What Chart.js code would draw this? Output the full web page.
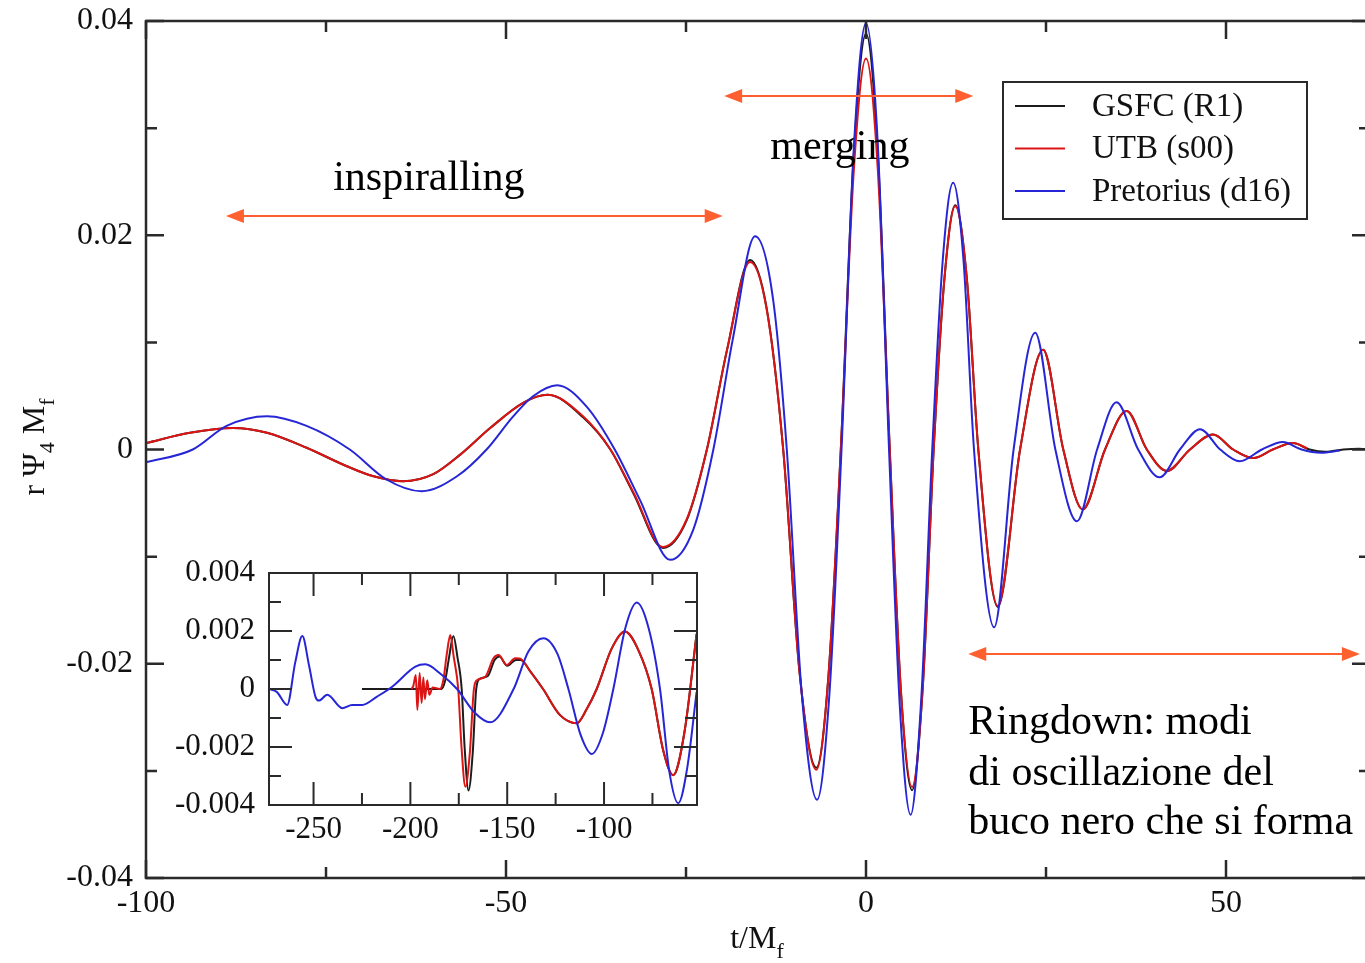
<!DOCTYPE html>
<html>
<head>
<meta charset="utf-8">
<title>Forma d'onda - fusione di buchi neri</title>
<script src="https://cdn.jsdelivr.net/npm/chart.js@4.4.1/dist/chart.umd.min.js"></script>
<style>
  html, body { margin: 0; padding: 0; background: #fff; width: 1365px; height: 963px; overflow: hidden; }
  #wrap { position: relative; width: 1365px; height: 963px; overflow: hidden; }
  #mainChart { position: absolute; left: 0; top: 0; }
  #insetChart { position: absolute; left: 150px; top: 550px; }
</style>
</head>
<body>
<div id="wrap">
  <canvas id="mainChart" width="1372" height="963"></canvas>
  <canvas id="insetChart" width="560" height="310"></canvas>
</div>
<script>
const utbT = [-100, -93.9, -87.9, -83.2, -77.7, -72.1, -68.4, -64.3, -60.1, -56.4, -52.2, -47.5, -44.2, -39.3, -35.5, -32.3, -28.2, -24.9, -22.1, -19.3, -16.1, -13.8, -11.5, -9.2, -6.9, -5.2, -3.5, -1.7, 0, 1.65, 3.3, 4.85, 6.4, 7.9, 9.4, 10.9, 12.4, 14.0, 15.6, 18.3, 21.4, 24.6, 27.4, 30.1, 33.2, 36.2, 39, 41.8, 45, 48.2, 51, 53.8, 56.5, 59.3, 61.3];
const utbY = [0.0006, 0.00156, 0.0020, 0.00156, 0.00016, -0.00156, -0.0025, -0.00296, -0.0023, -0.0005, 0.0020, 0.0044, 0.0051, 0.0031, 0, -0.0040, -0.0091, -0.0065, 0, 0.0093, 0.0175, 0.0131, 0, -0.021, -0.0299, -0.021, 0, 0.026, 0.0365, 0.026, 0, -0.0225, -0.0315, -0.022, 0, 0.016, 0.0227, 0.016, 0, -0.0146, 0, 0.0093, 0, -0.0056, 0, 0.0036, 0, -0.0020, 0, 0.0014, 0, -0.0008, 0, 0.0006, 0.0001];

const gsfcT = [-100, -93.9, -87.9, -83.2, -77.7, -72.1, -68.4, -64.3, -60.1, -56.4, -52.2, -47.5, -44.2, -39.3, -35.5, -32.3, -28.2, -24.9, -22.1, -19.3, -16.1, -13.8, -11.5, -9.2, -6.9, -5.2, -3.5, -1.7, 0, 1.65, 3.3, 4.85, 6.4, 7.9, 9.4, 10.9, 12.4, 14.0, 15.6, 18.3, 21.4, 24.6, 27.4, 30.1, 33.2, 36.2, 39, 41.8, 45, 48.2, 51, 53.8, 56.5, 59.3, 61.6, 63.8, 66.3, 68.5, 70];
const gsfcY = [0.0006, 0.00156, 0.0020, 0.00156, 0.00016, -0.00156, -0.0025, -0.00296, -0.0023, -0.0005, 0.0020, 0.0044, 0.0051, 0.0030, 0, -0.0041, -0.0092, -0.0066, 0, 0.0093, 0.0177, 0.0132, 0, -0.021, -0.0297, -0.021, 0, 0.0275, 0.0388, 0.0275, 0, -0.0226, -0.0318, -0.022, 0, 0.016, 0.0228, 0.016, 0, -0.0147, 0, 0.0093, 0, -0.0056, 0, 0.0036, 0, -0.0020, 0, 0.0014, 0, -0.0008, 0, 0.0006, 0, -0.00022, 0, 0.00008, 0];

const pretT = [-100, -93.5, -88.8, -83.2, -77.7, -71.7, -66.6, -61.7, -56.8, -52.7, -49.0, -46.2, -42.9, -38.8, -34.9, -31.4, -27.2, -24.0, -21.2, -18.5, -15.4, -12.9, -11.0, -8.9, -6.8, -5.1, -3.4, -1.7, 0, 1.6, 3.2, 4.7, 6.2, 7.7, 9.2, 10.65, 12.1, 13.55, 15.0, 17.8, 20.5, 23.5, 26.3, 29.3, 32.1, 34.8, 37.8, 40.8, 43.6, 46.4, 49.2, 51.9, 55, 57.9, 60.5, 63.2, 65.8];
const pretY = [-0.0012, 0, 0.0022, 0.0031, 0.0022, 0, -0.0028, -0.0039, -0.0025, 0, 0.0031, 0.0050, 0.0060, 0.0040, 0, -0.0047, -0.0103, -0.0075, 0, 0.0103, 0.0199, 0.0140, 0, -0.023, -0.0327, -0.023, 0, 0.028, 0.0398, 0.029, 0, -0.024, -0.0341, -0.023, 0, 0.0176, 0.0249, 0.0176, 0, -0.0166, 0, 0.0109, 0, -0.0067, 0, 0.0044, 0, -0.0026, 0, 0.0019, 0, -0.0011, 0, 0.0007, 0, -0.0003, -0.0001];

// ---- dati del riquadro (inizio delle simulazioni) ----
const insetUtbT = [-199.5, -198.5, -197.2, -196.4, -195.2, -194.2, -193.3, -192.5, -191.3, -190.2, -188.5, -184.8, -183.0, -181.2, -179.4, -177.6, -175.3, -173.6, -171.6, -169.3, -167.2, -165.6, -161.3, -157.1, -154.5, -150.2, -145.9, -143.5, -138, -131.5, -122.7, -114.1, -109, -103.8, -96, -89.2, -82, -75.4, -69.5, -64.3, -58.5, -52.2];
const insetUtbY = [0, 0.0001, 0.00048, -0.00072, 0.00055, -0.00048, 0.0004, -0.00035, 0.0003, -0.0002, 0.00005, 0, 0.0003, 0.0012, 0.00186, 0.0011, 0, -0.0020, -0.00337, -0.0022, 0, 0.0003, 0.00042, 0.00106, 0.00117, 0.00083, 0.00106, 0.00105, 0.0006, 0, -0.0009, -0.00118, -0.0007, 0, 0.0014, 0.00198, 0.0013, 0, -0.0021, -0.00297, -0.0015, 0.0019];

const insetGsfcT = [-225, -184, -182, -180, -177.8, -175.7, -173.5, -172, -170, -167.8, -166, -164.2, -160, -156.5, -154, -150, -145.5, -143, -138, -131.5, -122.7, -114.1, -109, -103.8, -96, -89.2, -82, -75.4, -69.5, -64.3, -58.5, -52.2];
const insetGsfcY = [0, 0, 0.0003, 0.0011, 0.00183, 0.0011, 0, -0.0020, -0.0035, -0.0022, 0, 0.00035, 0.00045, 0.0010, 0.00112, 0.0008, 0.0010, 0.0010, 0.0006, 0, -0.0009, -0.00118, -0.0007, 0, 0.0014, 0.00198, 0.0013, 0, -0.0021, -0.00297, -0.0015, 0.0019];

const insetPretT = [-273, -269, -263.6, -259.5, -255.8, -252.3, -249, -247.3, -242.9, -235.2, -230.1, -224.9, -217.2, -209.4, -197.4, -192.3, -184, -175.9, -167, -158.8, -146.7, -139, -131.3, -124, -118.4, -112, -106.3, -100.5, -95.2, -89, -83.1, -77, -71.1, -66.4, -61.7, -57, -52.2];
const insetPretY = [0, -0.0001, -0.00055, 0.0009, 0.00183, 0.0008, -0.00027, -0.0004, -0.0002, -0.00066, -0.00055, -0.00055, -0.00026, 0.00008, 0.00077, 0.00085, 0.0005, 0, -0.0008, -0.00115, 0, 0.0013, 0.00175, 0.0012, 0, -0.0016, -0.00224, -0.0015, 0, 0.0021, 0.00298, 0.0021, 0, -0.0028, -0.00394, -0.0027, -0.0001];

// ---- tacche degli assi ----
const xMajor = [-100, -50, 0, 50];
const xMinor = [-75, -25, 25];
const yMajor = [-0.04, -0.02, 0, 0.02, 0.04];
const yMinor = [-0.03, -0.01, 0.01, 0.03];
const insetXMajor = [-250, -200, -150, -100];
const insetXMinor = [-225, -175, -125, -75];
const insetYMajor = [-0.004, -0.002, 0, 0.002, 0.004];
const insetYMinor = [-0.003, -0.001, 0.001, 0.003];

const seriesNames = ['GSFC (R1)', 'UTB (s00)', 'Pretorius (d16)'];
const colBlack = '#1c1c1c';
const colRed = '#dc1414';
const colBlue = '#2626d6';
const colArrow = '#ff6030';
const serif = "'Liberation Serif', 'Times New Roman', serif";

Chart.defaults.font.family = serif;
Chart.defaults.color = '#111';

function pts(ts, ys) {
  return ts.map((t, i) => ({ x: t, y: ys[i] }));
}

function fmt(v) {
  return String(Math.round(v * 10000) / 10000);
}

// toglie il margine che Chart.js aggiunge per le etichette di bordo
function noEdgePadding(s) {
  s.paddingTop = 0; s.paddingBottom = 0;
  s.paddingLeft = 0; s.paddingRight = 0;
}

// cornice con tacche verso l'interno (stile xmgrace)
const frameTicks = {
  id: 'frameTicks',
  afterDraw(chart, args, o) {
    const { ctx, chartArea: a } = chart;
    const sx = chart.scales.x, sy = chart.scales.y;
    ctx.save();
    ctx.strokeStyle = '#2a2a2a';
    ctx.lineWidth = o.lineWidth;
    ctx.strokeRect(a.left, a.top, a.right - a.left, a.bottom - a.top);
    const drawX = (vals, len) => vals.forEach(v => {
      const px = sx.getPixelForValue(v);
      ctx.beginPath();
      ctx.moveTo(px, a.bottom); ctx.lineTo(px, a.bottom - len);
      ctx.moveTo(px, a.top); ctx.lineTo(px, a.top + len);
      ctx.stroke();
    });
    const drawY = (vals, len) => vals.forEach(v => {
      const py = sy.getPixelForValue(v);
      ctx.beginPath();
      ctx.moveTo(a.left, py); ctx.lineTo(a.left + len, py);
      ctx.moveTo(a.right, py); ctx.lineTo(a.right - len, py);
      ctx.stroke();
    });
    drawX(o.xMajor, o.majorLen);
    drawX(o.xMinor, o.minorLen);
    drawY(o.yMajor, o.majorLen);
    drawY(o.yMinor, o.minorLen);
    ctx.restore();
  }
};

// testo con pedici: parts = [[testo, pedice?], ...]
function drawSubText(ctx, parts, cx, cy, size) {
  const big = size + 'px ' + serif;
  const small = Math.round(size * 0.68) + 'px ' + serif;
  let total = 0;
  parts.forEach(p => { ctx.font = p[1] ? small : big; total += ctx.measureText(p[0]).width; });
  let x = cx - total / 2;
  ctx.textBaseline = 'alphabetic';
  ctx.textAlign = 'left';
  parts.forEach(p => {
    ctx.font = p[1] ? small : big;
    ctx.fillText(p[0], x, p[1] ? cy + size * 0.3 : cy);
    x += ctx.measureText(p[0]).width;
  });
}

function arrow(ctx, x1, x2, y) {
  const L = 18, H = 7;
  ctx.beginPath();
  ctx.moveTo(x1 + L - 2, y); ctx.lineTo(x2 - L + 2, y);
  ctx.stroke();
  ctx.beginPath();
  ctx.moveTo(x1, y); ctx.lineTo(x1 + L, y - H); ctx.lineTo(x1 + L, y + H); ctx.closePath();
  ctx.moveTo(x2, y); ctx.lineTo(x2 - L, y - H); ctx.lineTo(x2 - L, y + H); ctx.closePath();
  ctx.fill();
}

// frecce, scritte, legenda e titoli degli assi
const decorations = {
  id: 'decorations',
  afterDraw(chart) {
    const { ctx } = chart;
    const sx = chart.scales.x, sy = chart.scales.y;
    const X = v => sx.getPixelForValue(v);
    const Y = v => sy.getPixelForValue(v);
    ctx.save();

    // frecce delle fasi
    ctx.strokeStyle = colArrow;
    ctx.fillStyle = colArrow;
    ctx.lineWidth = 2;
    arrow(ctx, X(-88.9), X(-19.9), Y(0.0218));
    arrow(ctx, X(-19.7), X(14.9), Y(0.0330));
    arrow(ctx, X(14.2), X(68.6), Y(-0.0191));

    // didascalie
    ctx.fillStyle = '#000';
    ctx.font = '42px ' + serif;
    ctx.textAlign = 'left';
    ctx.textBaseline = 'alphabetic';
    ctx.fillText('inspiralling', X(-74), Y(0.0242));
    ctx.fillText('merging', X(-13.3), Y(0.0271));
    ctx.fillText('Ringdown: modi', X(14.2), Y(-0.0266));
    ctx.fillText('di oscillazione del', X(14.2), Y(-0.0313));
    ctx.fillText('buco nero che si forma', X(14.2), Y(-0.0359));

    // legenda
    const box = { left: 1003, top: 82, right: 1307, bottom: 219 };
    ctx.fillStyle = '#fff';
    ctx.fillRect(box.left, box.top, box.right - box.left, box.bottom - box.top);
    ctx.strokeStyle = '#2a2a2a';
    ctx.lineWidth = 2;
    ctx.strokeRect(box.left, box.top, box.right - box.left, box.bottom - box.top);
    const cols = [colBlack, colRed, colBlue];
    ctx.font = '33px ' + serif;
    ctx.textBaseline = 'middle';
    seriesNames.forEach((name, i) => {
      const yy = box.top + 24 + i * 42.5;
      ctx.strokeStyle = cols[i];
      ctx.lineWidth = 2;
      ctx.beginPath();
      ctx.moveTo(box.left + 12, yy); ctx.lineTo(box.left + 62, yy);
      ctx.stroke();
      ctx.fillStyle = '#111';
      ctx.fillText(name, box.left + 89, yy + 1);
    });

    // titoli degli assi
    ctx.fillStyle = '#111';
    drawSubText(ctx, [['t/M', false], ['f', true]], 757, 948, 32);
    ctx.save();
    ctx.translate(44, 447);
    ctx.rotate(-Math.PI / 2);
    drawSubText(ctx, [['r \u03A8', false], ['4', true], [' M', false], ['f', true]], 0, 0, 32);
    ctx.restore();

    ctx.restore();
  }
};

// ---- grafico principale ----
new Chart(document.getElementById('mainChart').getContext('2d'), {
  type: 'line',
  data: {
    datasets: [
      { label: seriesNames[0], data: pts(gsfcT, gsfcY), borderColor: colBlack, borderWidth: 2, order: 2 },
      { label: seriesNames[1], data: pts(utbT, utbY), borderColor: colRed, borderWidth: 2, order: 1 },
      { label: seriesNames[2], data: pts(pretT, pretY), borderColor: colBlue, borderWidth: 2, order: 0 }
    ]
  },
  options: {
    responsive: false,
    animation: false,
    layout: { padding: { top: 21, right: 2, left: 0, bottom: 0 } },
    elements: { point: { radius: 0 }, line: { cubicInterpolationMode: 'monotone', fill: false } },
    plugins: {
      legend: { display: false },
      tooltip: { enabled: false },
      frameTicks: { lineWidth: 2.5, majorLen: 18, minorLen: 11, xMajor, xMinor, yMajor, yMinor }
    },
    scales: {
      x: {
        type: 'linear', min: -100, max: 70,
        grid: { display: false, drawTicks: false },
        border: { display: false },
        ticks: { font: { size: 32 }, padding: 6, maxRotation: 0, callback: v => fmt(v) },
        afterBuildTicks: s => { s.ticks = xMajor.map(v => ({ value: v })); },
        afterFit: s => { s.height = 85; noEdgePadding(s); }
      },
      y: {
        type: 'linear', min: -0.04, max: 0.04,
        grid: { display: false, drawTicks: false },
        border: { display: false },
        ticks: { font: { size: 32 }, padding: 13, callback: v => fmt(v) },
        afterBuildTicks: s => { s.ticks = yMajor.map(v => ({ value: v })); },
        afterFit: s => { s.width = 146; noEdgePadding(s); }
      }
    }
  },
  plugins: [frameTicks, decorations]
});

// ---- riquadro ----
new Chart(document.getElementById('insetChart').getContext('2d'), {
  type: 'line',
  data: {
    datasets: [
      { label: seriesNames[0], data: pts(insetGsfcT, insetGsfcY), borderColor: colBlack, borderWidth: 2, order: 2 },
      { label: seriesNames[1], data: pts(insetUtbT, insetUtbY), borderColor: colRed, borderWidth: 2, order: 1 },
      { label: seriesNames[2], data: pts(insetPretT, insetPretY), borderColor: colBlue, borderWidth: 2, order: 0 }
    ]
  },
  options: {
    responsive: false,
    animation: false,
    layout: { padding: { top: 23, right: 13, left: 0, bottom: 0 } },
    elements: { point: { radius: 0 }, line: { cubicInterpolationMode: 'monotone', fill: false } },
    plugins: {
      legend: { display: false },
      tooltip: { enabled: false },
      frameTicks: { lineWidth: 2, majorLen: 23, minorLen: 12, xMajor: insetXMajor, xMinor: insetXMinor, yMajor: insetYMajor, yMinor: insetYMinor }
    },
    scales: {
      x: {
        type: 'linear', min: -273, max: -52,
        grid: { display: false, drawTicks: false },
        border: { display: false },
        ticks: { font: { size: 31 }, padding: 6, maxRotation: 0, callback: v => fmt(v) },
        afterBuildTicks: s => { s.ticks = insetXMajor.map(v => ({ value: v })); },
        afterFit: s => { s.height = 55; noEdgePadding(s); }
      },
      y: {
        type: 'linear', min: -0.004, max: 0.004,
        grid: { display: false, drawTicks: false },
        border: { display: false },
        ticks: { font: { size: 31 }, padding: 14, callback: v => fmt(v) },
        afterBuildTicks: s => { s.ticks = insetYMajor.map(v => ({ value: v })); },
        afterFit: s => { s.width = 119; noEdgePadding(s); }
      }
    }
  },
  plugins: [frameTicks]
});
</script>
</body>
</html>
